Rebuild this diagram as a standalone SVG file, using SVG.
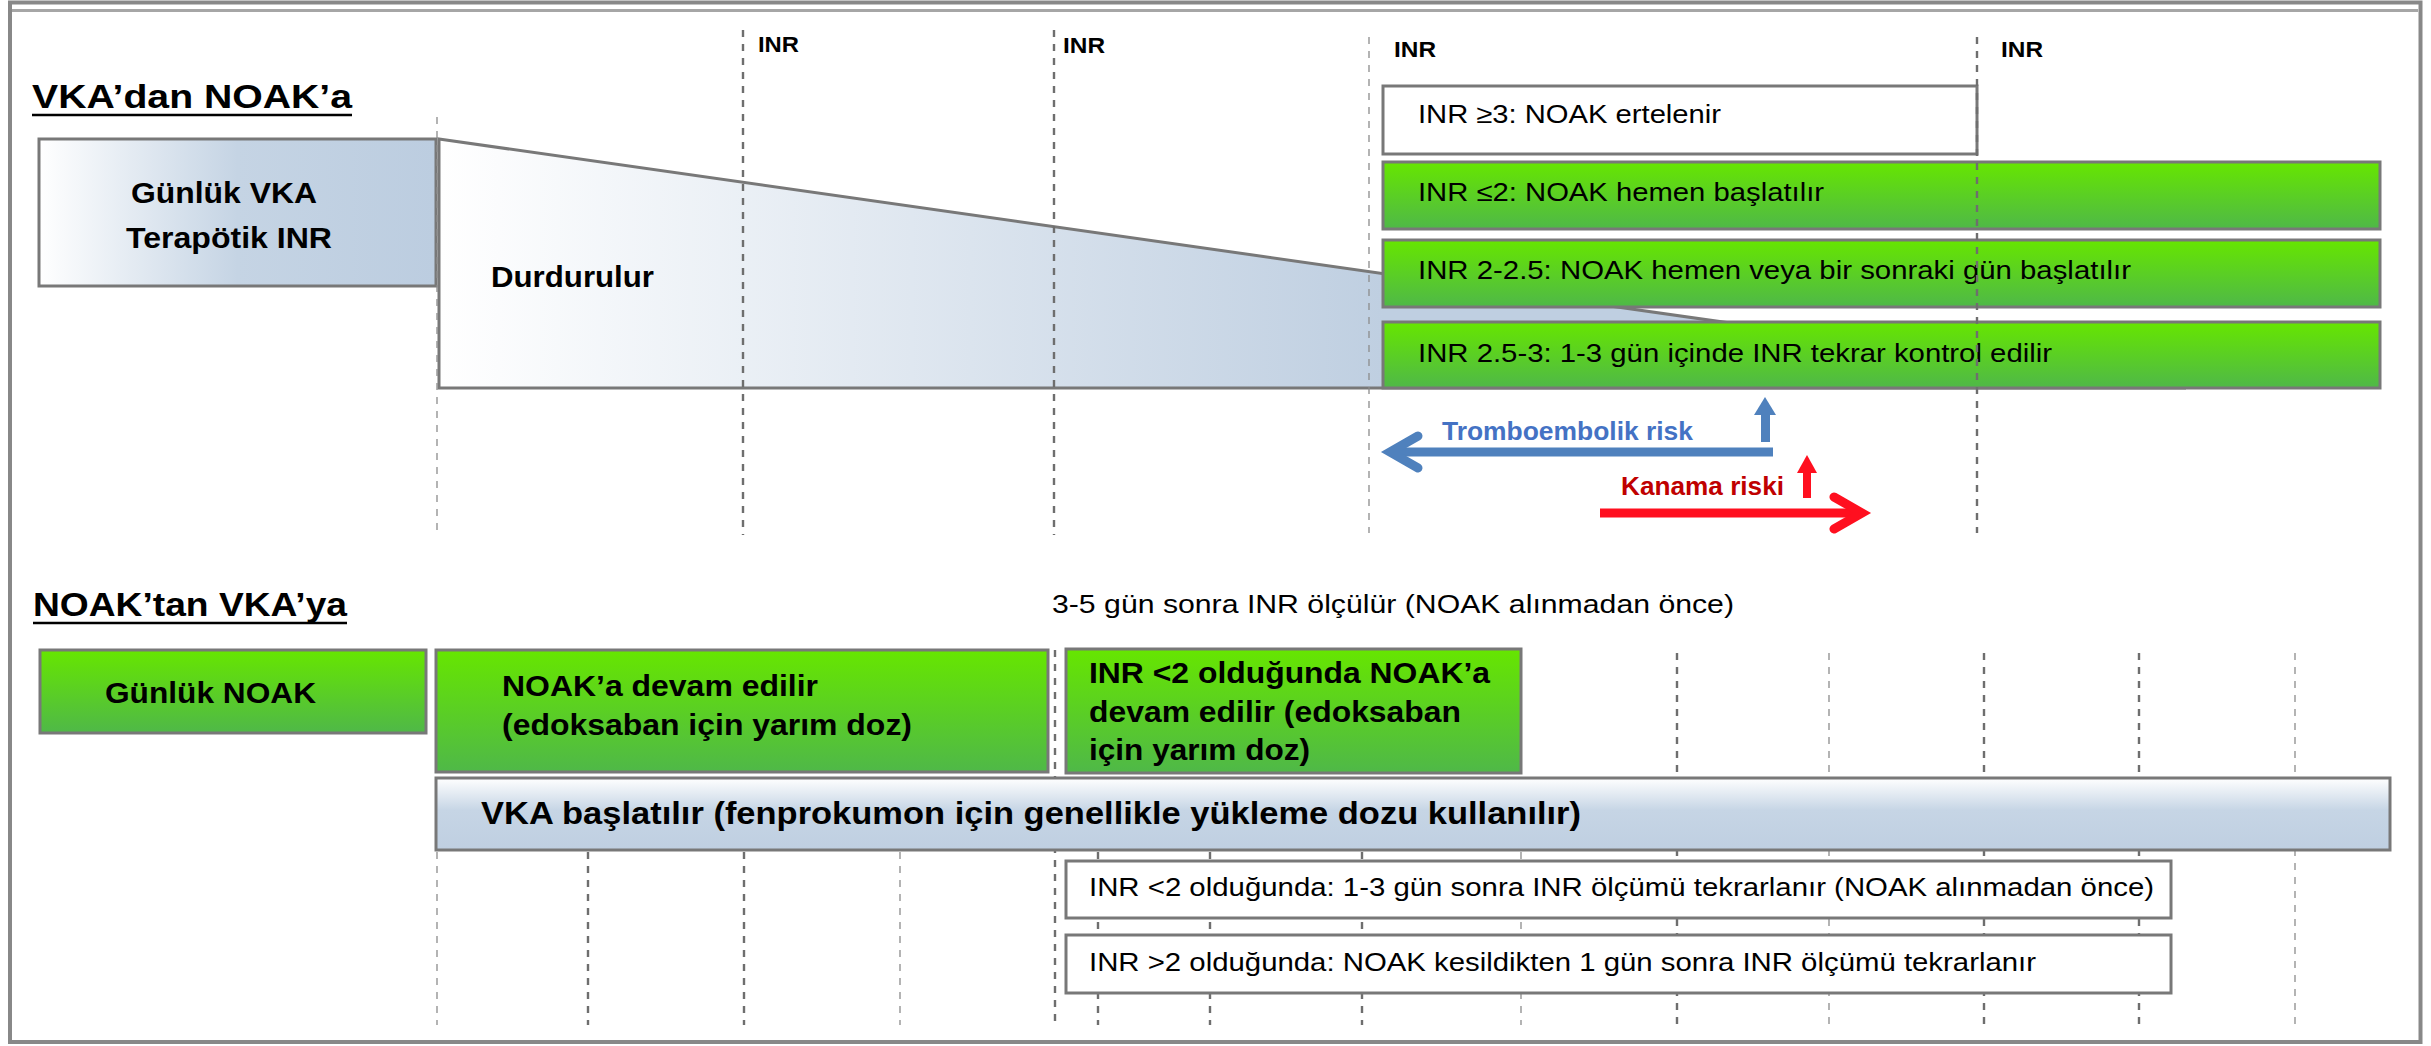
<svg xmlns="http://www.w3.org/2000/svg" width="2431" height="1046" viewBox="0 0 2431 1046">
<style>
text{font-family:"Liberation Sans",Arial,sans-serif;fill:#000}
.b{font-weight:bold}
.t{font-size:33px;font-weight:bold}
.inr{font-size:22px;font-weight:bold}
.bx{font-size:26px}
.bb{font-size:29px;font-weight:bold}
.box{stroke:#787878;stroke-width:3}
.dk{stroke:#6e6e6e;stroke-width:2.4;stroke-dasharray:7 7;fill:none}
.lt{stroke:#8c8c8c;stroke-width:1.3;stroke-dasharray:7 7;fill:none}
</style>
<defs>
<linearGradient id="gVka" x1="0" y1="0" x2="1" y2="0">
<stop offset="0" stop-color="#ffffff"/><stop offset="0.5" stop-color="#c5d4e4"/><stop offset="1" stop-color="#bccde0"/>
</linearGradient>
<linearGradient id="gTri" gradientUnits="userSpaceOnUse" x1="439" y1="0" x2="1383" y2="0">
<stop offset="0" stop-color="#ffffff"/><stop offset="1" stop-color="#bfcfe1"/>
</linearGradient>
<linearGradient id="gBar" x1="0" y1="0" x2="0" y2="1">
<stop offset="0" stop-color="#ffffff"/><stop offset="0.45" stop-color="#c6d5e5"/><stop offset="1" stop-color="#bfcfe1"/>
</linearGradient>
<linearGradient id="gGreen" x1="0" y1="0" x2="0" y2="1">
<stop offset="0" stop-color="#66e600"/><stop offset="1" stop-color="#4fb848"/>
</linearGradient>
</defs>
<rect width="2431" height="1046" fill="#ffffff"/>
<g id="frame">
<rect x="10" y="2.5" width="2410.5" height="1039.5" fill="none" stroke="#888888" stroke-width="4"/>
<line x1="12" y1="10.5" x2="2418" y2="10.5" stroke="#a6a6a6" stroke-width="3"/>
</g>
<g id="grid-lower">
<line class="lt" x1="437" y1="852" x2="437" y2="1025"/>
<line class="dk" x1="588" y1="852" x2="588" y2="1025"/>
<line class="dk" x1="744" y1="852" x2="744" y2="1025"/>
<line class="lt" x1="900" y1="852" x2="900" y2="1025"/>
<line class="dk" x1="1055" y1="650" x2="1055" y2="1025"/>
<line class="dk" x1="1098" y1="852" x2="1098" y2="1025"/>
<line class="dk" x1="1210" y1="852" x2="1210" y2="1025"/>
<line class="dk" x1="1362" y1="852" x2="1362" y2="1025"/>
<line class="lt" x1="1521" y1="852" x2="1521" y2="1025"/>
<line class="dk" x1="1677" y1="653" x2="1677" y2="1025"/>
<line class="lt" x1="1829" y1="653" x2="1829" y2="1025"/>
<line class="dk" x1="1984" y1="653" x2="1984" y2="1025"/>
<line class="dk" x1="2139" y1="653" x2="2139" y2="1025"/>
<line class="lt" x1="2295" y1="653" x2="2295" y2="1025"/>
</g>
<g id="title-vka-noak">
<text class="t" x="32" y="108" textLength="320" lengthAdjust="spacingAndGlyphs">VKA’dan NOAK’a</text>
<line x1="32" y1="115" x2="352" y2="115" stroke="#000" stroke-width="2.5"/>
</g>
<g id="node-gunluk-vka">
<rect class="box" x="39" y="139" width="397" height="147" fill="url(#gVka)"/>
<text class="bb" x="131" y="203" textLength="186" lengthAdjust="spacingAndGlyphs">Günlük VKA</text>
<text class="bb" x="126" y="248" textLength="206" lengthAdjust="spacingAndGlyphs">Terapötik INR</text>
</g>
<g id="node-durdurulur">
<polygon class="box" points="439,139 439,388 2186,388" fill="url(#gTri)"/>
<text class="bb" x="491" y="287" font-size="28" textLength="163" lengthAdjust="spacingAndGlyphs">Durdurulur</text>
</g>
<g id="node-inr3">
<rect class="box" x="1383" y="86" width="594" height="68" fill="#ffffff"/>
<text class="bx" x="1418" y="123" textLength="303" lengthAdjust="spacingAndGlyphs">INR ≥3: NOAK ertelenir</text>
</g>
<g id="node-inr2">
<rect class="box" x="1383" y="162" width="997" height="67" fill="url(#gGreen)"/>
<text class="bx" x="1418" y="201" textLength="406" lengthAdjust="spacingAndGlyphs">INR ≤2: NOAK hemen başlatılır</text>
</g>
<g id="node-inr2-25">
<rect class="box" x="1383" y="240" width="997" height="67" fill="url(#gGreen)"/>
<text class="bx" x="1418" y="279" textLength="713" lengthAdjust="spacingAndGlyphs">INR 2-2.5: NOAK hemen veya bir sonraki gün başlatılır</text>
</g>
<g id="node-inr25-3">
<rect class="box" x="1383" y="322" width="997" height="66" fill="url(#gGreen)"/>
<text class="bx" x="1418" y="362" textLength="634" lengthAdjust="spacingAndGlyphs">INR 2.5-3: 1-3 gün içinde INR tekrar kontrol edilir</text>
</g>
<g id="grid-upper">
<line class="lt" x1="437" y1="117" x2="437" y2="535"/>
<line class="dk" x1="743" y1="30" x2="743" y2="535"/>
<line class="dk" x1="1054" y1="30" x2="1054" y2="535"/>
<line class="lt" x1="1369" y1="37" x2="1369" y2="533"/>
<line class="dk" x1="1977" y1="37" x2="1977" y2="533"/>
<text class="inr" x="758" y="52" textLength="41" lengthAdjust="spacingAndGlyphs">INR</text>
<text class="inr" x="1063" y="53" textLength="42" lengthAdjust="spacingAndGlyphs">INR</text>
<text class="inr" x="1394" y="57" textLength="42" lengthAdjust="spacingAndGlyphs">INR</text>
<text class="inr" x="2001" y="57" textLength="42" lengthAdjust="spacingAndGlyphs">INR</text>
</g>
<g id="connectors">
<g id="arrow-tromboembolik" stroke="#4f81bd" fill="#4f81bd">
<line x1="1773" y1="452" x2="1392" y2="452" stroke-width="9"/>
<polyline points="1418,436 1390,452 1418,468" fill="none" stroke-width="9" stroke-linecap="round" stroke-linejoin="miter"/>
<rect x="1761" y="413" width="9" height="29" stroke="none"/>
<polygon points="1754,415 1776,415 1765,397" stroke="none"/>
</g>
<g id="arrow-kanama" stroke="#ff0f1f" fill="#ff0f1f">
<line x1="1600" y1="513" x2="1858" y2="513" stroke-width="9"/>
<polyline points="1834,497 1862,513 1834,529" fill="none" stroke-width="9" stroke-linecap="round" stroke-linejoin="miter"/>
<rect x="1803" y="471" width="8" height="27" stroke="none"/>
<polygon points="1797,473 1817,473 1807,455" stroke="none"/>
</g>
</g>
<text x="1442" y="440" font-size="25" class="b" style="fill:#4472c4" textLength="251" lengthAdjust="spacingAndGlyphs">Tromboembolik risk</text>
<text x="1621" y="495" font-size="25" class="b" style="fill:#c00000" textLength="163" lengthAdjust="spacingAndGlyphs">Kanama riski</text>
<g id="title-noak-vka">
<text class="t" x="33" y="616" textLength="314" lengthAdjust="spacingAndGlyphs">NOAK’tan VKA’ya</text>
<line x1="33" y1="623" x2="347" y2="623" stroke="#000" stroke-width="2.5"/>
</g>
<text class="bx" x="1052" y="613" textLength="682" lengthAdjust="spacingAndGlyphs">3-5 gün sonra INR ölçülür (NOAK alınmadan önce)</text>
<g id="node-gunluk-noak">
<rect class="box" x="40" y="650" width="386" height="83" fill="url(#gGreen)"/>
<text class="bb" x="105" y="703" textLength="211" lengthAdjust="spacingAndGlyphs">Günlük NOAK</text>
</g>
<g id="node-noak-devam">
<rect class="box" x="436" y="650" width="612" height="122" fill="url(#gGreen)"/>
<text class="bb" x="502" y="696" textLength="316" lengthAdjust="spacingAndGlyphs">NOAK’a devam edilir</text>
<text class="bb" x="502" y="735" textLength="410" lengthAdjust="spacingAndGlyphs">(edoksaban için yarım doz)</text>
</g>
<g id="node-inr-lt2-devam">
<rect class="box" x="1066" y="649" width="455" height="124" fill="url(#gGreen)"/>
<text class="bb" x="1089" y="683" textLength="401" lengthAdjust="spacingAndGlyphs">INR &lt;2 olduğunda NOAK’a</text>
<text class="bb" x="1089" y="722" textLength="372" lengthAdjust="spacingAndGlyphs">devam edilir (edoksaban</text>
<text class="bb" x="1089" y="760" textLength="221" lengthAdjust="spacingAndGlyphs">için yarım doz)</text>
</g>
<g id="node-vka-baslatilir">
<rect class="box" x="436" y="778" width="1954" height="72" fill="url(#gBar)"/>
<text class="b" x="481" y="824" font-size="32" textLength="1100" lengthAdjust="spacingAndGlyphs">VKA başlatılır (fenprokumon için genellikle yükleme dozu kullanılır)</text>
</g>
<g id="node-inr-lt2-olcum">
<rect class="box" x="1066" y="861" width="1105" height="57" fill="#ffffff"/>
<text class="bx" x="1089" y="896" textLength="1065" lengthAdjust="spacingAndGlyphs">INR &lt;2 olduğunda: 1-3 gün sonra INR ölçümü tekrarlanır (NOAK alınmadan önce)</text>
</g>
<g id="node-inr-gt2-olcum">
<rect class="box" x="1066" y="935" width="1105" height="58" fill="#ffffff"/>
<text class="bx" x="1089" y="971" textLength="947" lengthAdjust="spacingAndGlyphs">INR &gt;2 olduğunda: NOAK kesildikten 1 gün sonra INR ölçümü tekrarlanır</text>
</g>
</svg>
